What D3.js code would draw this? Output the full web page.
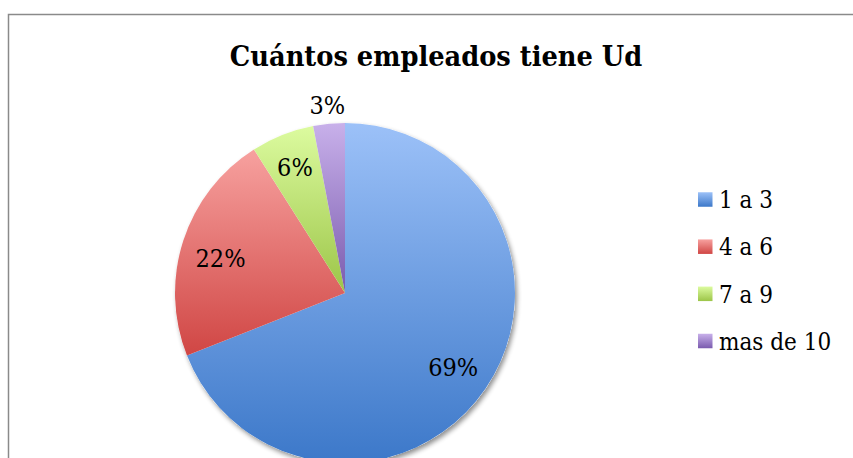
<!DOCTYPE html>
<html><head><meta charset="utf-8">
<script src="https://cdn.jsdelivr.net/npm/d3@7"></script>
<style>body{margin:0;background:#fff}svg{display:block}
.f{font-family:"DejaVu Serif Condensed","DejaVu Serif",serif;font-stretch:condensed}</style>
</head><body>
<script>
const categories = ["1 a 3", "4 a 6", "7 a 9", "mas de 10"];
const values = [69, 22, 6, 3];
const labels = ["69%", "22%", "6%", "3%"];
const colorsTop = ["#9cc1f8", "#f7a19f", "#dcfb9f", "#c8b0ea"];
const colorsBottom = ["#3c78c9", "#d04644", "#9cc548", "#7a5bae"];
const title = "Cuántos empleados tiene Ud";

const W = 853, H = 458;
const svg = d3.select("body").append("svg").attr("width", W).attr("height", H);
const defs = svg.append("defs");

svg.append("rect").attr("x", 8.5).attr("y", 14.5).attr("width", W + 20).attr("height", H + 20)
  .attr("fill", "#fff").attr("stroke", "#8a8a8a").attr("stroke-width", 1.5);

svg.append("text").attr("class", "f").attr("x", 436).attr("y", 66).attr("text-anchor", "middle")
  .attr("font-weight", "bold").attr("font-size", 28.6).attr("fill", "#000").text(title);

const cx = 345, cy = 293, r = 170;
const pie = d3.pie().sort(null).value(d => d)(values);
const arc = d3.arc().innerRadius(0).outerRadius(r);

const filt = defs.append("filter").attr("id", "sh").attr("x", "-20%").attr("y", "-20%").attr("width", "140%").attr("height", "140%");
filt.append("feGaussianBlur").attr("in", "SourceAlpha").attr("stdDeviation", 2.5);
filt.append("feOffset").attr("dx", 2).attr("dy", 3).attr("result", "ob");
filt.append("feComponentTransfer").append("feFuncA").attr("type", "linear").attr("slope", 0.45);
const fm = filt.append("feMerge");
fm.append("feMergeNode");
fm.append("feMergeNode").attr("in", "SourceGraphic");

const g = svg.append("g").attr("transform", `translate(${cx},${cy})`);
g.append("circle").attr("r", r).attr("fill", "#fff").attr("filter", "url(#sh)");

pie.forEach((p, i) => {
  const gr = defs.append("linearGradient").attr("id", "g" + i)
    .attr("x1", 0).attr("y1", 0).attr("x2", 0).attr("y2", 1);
  gr.append("stop").attr("offset", "0%").attr("stop-color", colorsTop[i]);
  gr.append("stop").attr("offset", "100%").attr("stop-color", colorsBottom[i]);
});

g.selectAll("path.s").data(pie).join("path").attr("class", "s")
  .attr("d", arc).attr("fill", (d, i) => `url(#g${i})`);

const labelRadius = [0.77 * r, 0.77 * r, 0.80 * r, r + 19];
const labelDy = [9, 14, 9, 9];
g.selectAll("text.lbl").data(pie).join("text").attr("class", "lbl f")
  .attr("x", (d, i) => Math.sin((d.startAngle + d.endAngle) / 2) * labelRadius[i])
  .attr("y", (d, i) => -Math.cos((d.startAngle + d.endAngle) / 2) * labelRadius[i] + labelDy[i])
  .attr("text-anchor", "middle")
  .attr("font-size", 25).attr("fill", "#000")
  .text((d, i) => labels[i]);

const leg = svg.append("g");
const ly = d3.scalePoint().domain(categories).range([199.5, 341]);
categories.forEach((c, i) => {
  const gr = defs.append("linearGradient").attr("id", "lg" + i)
    .attr("x1", 0).attr("y1", 0).attr("x2", 0).attr("y2", 1);
  gr.append("stop").attr("offset", "0%").attr("stop-color", colorsTop[i]);
  gr.append("stop").attr("offset", "100%").attr("stop-color", colorsBottom[i]);
  leg.append("rect").attr("x", 698).attr("y", ly(c) - 7.25).attr("width", 14.5).attr("height", 14.5)
    .attr("fill", `url(#lg${i})`);
  leg.append("text").attr("class", "f").attr("x", 719).attr("y", ly(c) + 8.8)
    .attr("font-size", 24).attr("fill", "#000").text(c);
});
</script>
</body></html>
